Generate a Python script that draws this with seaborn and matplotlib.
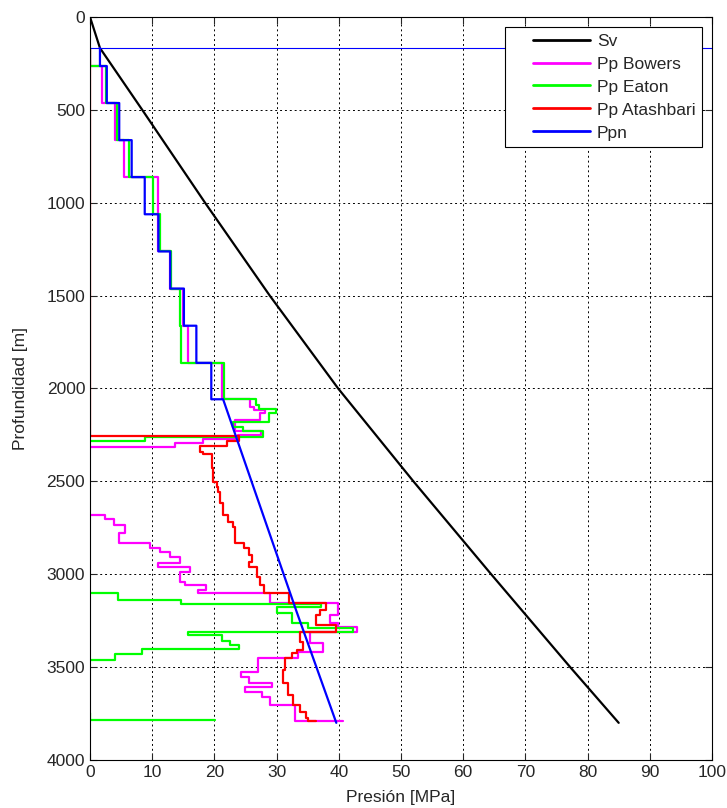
import numpy as np
import pandas as pd
import matplotlib
matplotlib.use("Agg")
import matplotlib.pyplot as plt
import seaborn as sns
from matplotlib.lines import Line2D
from matplotlib.legend_handler import HandlerLine2D

# %%
# Sobrecarga (Sv)
sv_depth = [0, 167, 500, 1000, 1500, 2000, 2500, 3000, 3500, 3800]
sv_pres = [0, 1.6, 8.4, 18.5, 28.9, 39.9, 52.0, 64.5, 77.2, 85.0]

# Presion normal (Ppn): tramo escalonado + tendencia
ppn_step_depth = [167, 264, 463, 663, 862, 1062, 1262, 1462, 1662, 1862, 2058]
ppn_step_pres = [1.6, 2.7, 4.7, 6.7, 8.8, 11.0, 12.9, 15.1, 17.1, 19.5, 21.4]
ppn_trend_depth = [2058, 2300, 2600, 2900, 3200, 3500, 3800]
ppn_trend_pres = [21.4, 23.9, 27.0, 30.1, 33.2, 36.4, 39.6]

# Pp Bowers (dos tramos)
bowers1_depth = [167, 264, 463, 663, 862, 1262, 1462, 1662, 1862, 2056, 2098, 2116, 2134,
                 2170, 2229, 2252, 2270, 2292, 2313]
bowers1_pres = [0, 2.0, 4.0, 5.5, 11.0, 12.8, 15.0, 15.8, 21.3, 25.7, 26.3, 28.2, 27.4,
                23.3, 27.5, 23.8, 18.2, 13.7, 0]
bowers2_depth = [2681, 2681, 2703, 2734, 2779, 2833, 2860, 2878, 2905, 2938, 2959, 2986,
                 3040, 3058, 3085, 3103, 3157, 3222, 3262, 3282, 3312, 3372, 3417, 3452,
                 3525, 3555, 3585, 3606, 3632, 3660, 3704, 3790]
bowers2_pres = [0, 2.4, 3.8, 5.7, 4.6, 9.6, 11.3, 12.9, 14.4, 10.9, 16.0, 14.4,
                15.2, 18.6, 17.4, 28.9, 39.9, 38.6, 39.9, 43.0, 35.4, 37.5, 33.5, 27.0,
                24.2, 25.5, 29.2, 24.9, 27.6, 28.9, 33.0, 40.6]

# Pp Eaton (tres tramos)
eaton1_depth = [167, 264, 463, 663, 862, 1062, 1262, 1462, 1662, 1862, 2057, 2089, 2110,
                2134, 2179, 2206, 2229, 2261, 2281]
eaton1_pres = [0, 2.5, 4.4, 6.3, 10.2, 11.3, 13.0, 14.4, 14.7, 21.6, 26.7, 27.2, 29.9,
               28.7, 23.0, 24.6, 27.8, 8.8, 0]
eaton2_depth = [3103, 3103, 3139, 3160, 3179, 3211, 3265, 3287, 3310, 3328, 3360, 3382,
                3405, 3427, 3459]
eaton2_pres = [0, 4.5, 14.7, 37.2, 30.0, 32.4, 35.1, 42.3, 15.8, 21.2, 22.5, 23.9,
               8.3, 4.0, 0]
eaton3_depth = [3748, 3784]
eaton3_pres = [0, 20.1]

# Pp Atashbari
atash_depth = [167, 2256, 2281, 2310, 2340, 2355, 2426, 2502, 2529, 2556, 2618, 2681,
               2717, 2744, 2834, 2861, 2897, 2932, 2959, 3013, 3058, 3103, 3157, 3190,
               3220, 3274, 3310, 3363, 3408, 3426, 3453, 3516, 3587, 3650, 3704, 3740,
               3776, 3788]
atash_pres = [0, 24.0, 22.0, 17.7, 18.2, 19.6, 19.8, 20.4, 20.6, 20.9, 21.4, 22.2,
              23.0, 23.3, 24.7, 25.5, 26.0, 25.5, 26.8, 27.3, 27.9, 32.0, 38.0, 37.0,
              36.4, 39.5, 33.8, 34.3, 33.2, 32.4, 31.3, 31.1, 31.9, 32.7, 33.8, 34.8,
              35.1, 36.4]

seafloor = 167


# %%
def stairs(depth, pres):
    # cada presion se mantiene desde su profundidad hasta la siguiente
    d = np.asarray(depth, float)
    p = np.asarray(pres, float)
    return np.repeat(p, 2)[:-1], np.repeat(d, 2)[1:]


def draw(ax, x, y, color, lw=1.6):
    df = pd.DataFrame({"p": x, "d": y})
    sns.lineplot(data=df, x="p", y="d", sort=False, estimator=None,
                 color=color, lw=lw, ax=ax, legend=False)


# legend line drawn only on the right part of the handle box (MATLAB look)
class ShiftedLine(HandlerLine2D):
    def create_artists(self, legend, orig_handle, xdescent, ydescent,
                       width, height, fontsize, trans):
        arts = super().create_artists(legend, orig_handle, xdescent, ydescent,
                                      width, height, fontsize, trans)
        for a in arts:
            xd = np.asarray(a.get_xdata(), float)
            if len(xd) > 1:
                x0, x1 = xd[0], xd[-1]
                a.set_xdata([x0 + 0.27 * (x1 - x0), x1])
                a.set_ydata(np.full(2, np.asarray(a.get_ydata())[0]))
        return arts


sns.set_style("ticks")
plt.rcParams["font.family"] = ["Liberation Sans", "DejaVu Sans"]
plt.rcParams["font.size"] = 12.5

fig = plt.figure(figsize=(7.27, 8.08), dpi=100)
ax = fig.add_axes([90 / 727, 1 - 760 / 808, 622 / 727, 743 / 808])

c_bow, c_eat, c_ata, c_ppn = "#ff00ff", "#00ff00", "#ff0000", "#0000ff"

draw(ax, sv_pres, sv_depth, "k")
for dd, pp in [(bowers1_depth, bowers1_pres), (bowers2_depth, bowers2_pres)]:
    draw(ax, *stairs(dd, pp), c_bow)
for dd, pp in [(eaton1_depth, eaton1_pres), (eaton2_depth, eaton2_pres),
               (eaton3_depth, eaton3_pres)]:
    draw(ax, *stairs(dd, pp), c_eat)
draw(ax, *stairs(atash_depth, atash_pres), c_ata)
xs, ys = stairs(ppn_step_depth, ppn_step_pres)
draw(ax, np.concatenate([xs, ppn_trend_pres[1:]]),
     np.concatenate([ys, ppn_trend_depth[1:]]), c_ppn)
ax.axhline(seafloor, color=c_ppn, lw=0.8)

ax.set_xlim(0, 100)
ax.set_ylim(4000, 0)
ax.set_xticks(np.arange(0, 101, 10))
ax.set_yticks(np.arange(0, 4001, 500))
ax.grid(True, color="k", linestyle=(0, (2, 3)), lw=0.7)
ax.tick_params(direction="in", length=5, top=True, right=True, width=0.8)
for s in ax.spines.values():
    s.set_visible(True)
    s.set_linewidth(0.8)
    s.set_color("k")
ax.set_xlabel("Presión [MPa]", labelpad=7)
ax.set_ylabel("Profundidad [m]", labelpad=13)

handles = [Line2D([], [], color=c, lw=2) for c in ["k", c_bow, c_eat, c_ata, c_ppn]]
labels = ["Sv", "Pp Bowers", "Pp Eaton", "Pp Atashbari", "Ppn"]
leg = ax.legend(handles, labels, loc="upper right", bbox_to_anchor=(1, 1),
                borderaxespad=0.55, fancybox=False, framealpha=1, edgecolor="k",
                handlelength=4.5, handletextpad=0.4, labelspacing=0.45, borderpad=0.4,
                handler_map={Line2D: ShiftedLine()})
leg.get_frame().set_linewidth(0.8)

fig.savefig("out.png", dpi=100)
